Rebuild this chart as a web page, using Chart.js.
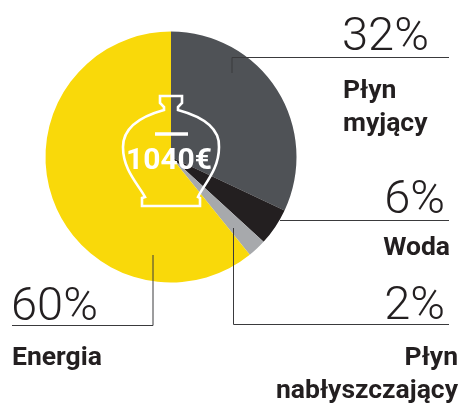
<!DOCTYPE html>
<html lang="pl">
<head>
<meta charset="utf-8">
<title>Koszt 1040€</title>
<script src="https://cdn.jsdelivr.net/npm/chart.js@4/dist/chart.umd.min.js"></script>
<style>
  html, body { margin: 0; padding: 0; background: #fff; }
  #wrap { position: relative; width: 461px; height: 403px; overflow: hidden; }
</style>
</head>
<body>
<div id="wrap"><canvas id="pie" width="461" height="403"></canvas></div>
<script>
// slice order is clockwise from 12 o'clock
const categories = ["Płyn myjący", "Woda", "Płyn nabłyszczający", "Energia"];
const percentLabels = ["32%", "6%", "2%", "60%"];
// slice sizes, they differ a bit from the printed labels
const sliceValues = [32, 4.8, 2.4, 60.8];
const sliceColors = ["#4f5256", "#231f20", "#a7a9ac", "#f9d90a"];
const centerLabel = "1040€";

const LINE = "#3a3a3c";
const INK = "#231f20";

// ===============================
// Callouts
// ===============================
const callouts = [
  { pct: 0, x: 342, y: 50, align: "left", name: ["Płyn", "myjący"], nameX: 343, nameY: [98, 131],
    path: [[232, 73], [232, 57.5], [449, 57.5]] },
  { pct: 1, x: 445, y: 213, align: "right", name: ["Woda"], nameX: 450, nameY: [255],
    path: [[280, 220.5], [449, 220.5]] },
  { pct: 2, x: 445, y: 319, align: "right", name: ["Płyn", "nabłyszczający"], nameX: 458, nameY: [365, 398],
    path: [[233.5, 228], [233.5, 324.5], [449, 324.5]] },
  { pct: 3, x: 11, y: 320, align: "left", name: ["Energia"], nameX: 12, nameY: [365],
    path: [[12, 325.5], [153, 325.5], [153, 255]] }
];

const calloutPlugin = {
  id: "callouts",
  afterDatasetsDraw(chart) {
    const ctx = chart.ctx;
    ctx.save();
    ctx.textBaseline = "alphabetic";
    callouts.forEach(c => {
      ctx.beginPath();
      c.path.forEach((p, i) => i ? ctx.lineTo(p[0], p[1]) : ctx.moveTo(p[0], p[1]));
      ctx.strokeStyle = LINE;
      ctx.lineWidth = 1;
      ctx.stroke();

      ctx.fillStyle = INK;
      ctx.textAlign = c.align;
      ctx.font = "300 47px Roboto";
      ctx.fillText(percentLabels[c.pct], c.x, c.y);

      ctx.font = "700 26.5px Roboto";
      c.name.forEach((t, i) => ctx.fillText(t, c.nameX, c.nameY[i]));
    });
    ctx.restore();
  }
};

// ===============================
// Money jar in the middle
// ===============================
const jarPlugin = {
  id: "jar",
  afterDatasetsDraw(chart) {
    const ctx = chart.ctx;
    ctx.save();
    ctx.strokeStyle = "#fff";
    ctx.lineWidth = 2.6;
    ctx.lineJoin = "miter";
    ctx.beginPath();
    ctx.moveTo(160, 96);
    ctx.lineTo(182, 96);
    ctx.lineTo(182, 103);
    ctx.lineTo(178, 107);
    ctx.lineTo(178, 110);
    ctx.bezierCurveTo(200, 116, 220, 126, 219, 147);
    ctx.bezierCurveTo(219, 170, 204, 184, 198, 197);
    ctx.lineTo(200, 198);
    ctx.lineTo(200, 206);
    ctx.lineTo(142, 206);
    ctx.lineTo(142, 198);
    ctx.lineTo(145, 197);
    ctx.bezierCurveTo(138, 184, 123, 170, 123, 147);
    ctx.bezierCurveTo(123, 126, 142, 116, 164, 110);
    ctx.lineTo(164, 107);
    ctx.lineTo(160, 103);
    ctx.closePath();
    ctx.stroke();

    ctx.beginPath();
    ctx.moveTo(155, 134);
    ctx.lineTo(188, 134);
    ctx.lineWidth = 3.5;
    ctx.stroke();

    ctx.fillStyle = "#fff";
    ctx.textAlign = "center";
    ctx.textBaseline = "alphabetic";
    ctx.font = "700 30px Roboto";
    ctx.fillText(centerLabel, 169, 169);
    ctx.restore();
  }
};

new Chart(document.getElementById("pie"), {
  type: "pie",
  data: {
    labels: categories,
    datasets: [{
      data: sliceValues,
      backgroundColor: sliceColors,
      borderWidth: 0
    }]
  },
  options: {
    responsive: false,
    animation: false,
    layout: { padding: { left: 45.5, right: 164.5, top: 31.5, bottom: 120.5 } },
    plugins: {
      legend: { display: false },
      tooltip: { enabled: false }
    }
  },
  plugins: [calloutPlugin, jarPlugin]
});
</script>
</body>
</html>
